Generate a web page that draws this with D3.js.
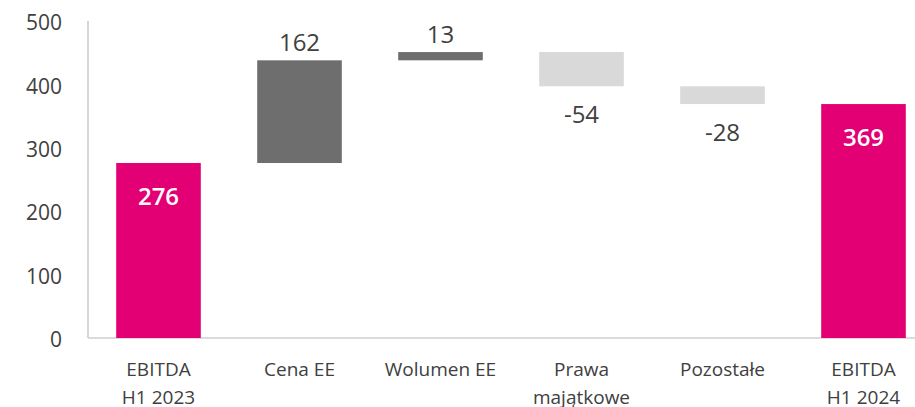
<!DOCTYPE html>
<html>
<head>
<meta charset="utf-8">
<script src="https://cdn.jsdelivr.net/npm/d3@7"></script>
<style>
    body { margin: 0; background: #fff; }
    svg { display: block; font-family: "Open Sans", sans-serif; }
</style>
</head>
<body>
<div id="chart"></div>
<script>
// category labels (lines split with |)
var categories = ["EBITDA|H1 2023", "Cena EE", "Wolumen EE", "Prawa|majątkowe", "Pozostałe", "EBITDA|H1 2024"];
// value of each step; "total" marks the full bars
var values = [276, 162, 13, -54, -28, 369];
var kinds = ["total", "delta", "delta", "delta", "delta", "total"];
var yTicks = [0, 100, 200, 300, 400, 500];

var width = 915,
    height = 407,
    margin = { top: 21, right: 0, bottom: 69, left: 88 };

var svg = d3.select("#chart").append("svg")
    .attr("width", width)
    .attr("height", height);

// running totals -> start/end of each bar
var running = 0;
var bars = values.map(function(v, i) {
    var d = { name: categories[i], value: v, kind: kinds[i] };
    if (kinds[i] === "total") {
        d.start = 0; d.end = v; running = v;
    } else {
        d.start = running; d.end = running + v; running = d.end;
    }
    return d;
});

var xScale = d3.scaleBand()
    .domain(categories)
    .range([margin.left, margin.left + 846])
    .paddingInner(0.4)
    .paddingOuter(0.2);

var yScale = d3.scaleLinear()
    .domain([0, 500])
    .range([height - margin.bottom, margin.top]);

var color = function(d) {
    if (d.kind === "total") return "#e20074";
    return d.value >= 0 ? "#6e6e6e" : "#d9d9d9";
};

// y axis labels
var yAxis = d3.axisLeft(yScale).tickValues(yTicks).tickSize(0).tickPadding(0);
var gy = svg.append("g")
    .attr("class", "y axis")
    .attr("transform", "translate(62,2)")
    .call(yAxis);
gy.select(".domain").remove();
gy.selectAll("text")
    .attr("fill", "#404040")
    .style("font-size", "21px")
    .style("font-family", "'Open Sans', sans-serif");

// axis lines
svg.append("line")
    .attr("x1", margin.left).attr("x2", margin.left)
    .attr("y1", yScale(500)).attr("y2", yScale(0))
    .attr("stroke", "#c8c8c8").attr("stroke-width", 1.5);
svg.append("line")
    .attr("x1", margin.left).attr("x2", width)
    .attr("y1", yScale(0)).attr("y2", yScale(0))
    .attr("stroke", "#cfcfcf").attr("stroke-width", 1.5);

// bars
svg.selectAll("rect.bar")
    .data(bars)
    .enter().append("rect")
    .attr("class", "bar")
    .attr("x", d => xScale(d.name))
    .attr("width", xScale.bandwidth())
    .attr("y", d => yScale(Math.max(d.start, d.end)))
    .attr("height", d => Math.abs(yScale(d.start) - yScale(d.end)))
    .attr("fill", color);

// value labels
svg.selectAll("text.val")
    .data(bars)
    .enter().append("text")
    .attr("class", "val")
    .attr("x", d => xScale(d.name) + xScale.bandwidth() / 2)
    .attr("y", function(d) {
        if (d.kind === "total") return yScale(d.end) + 42;
        if (d.value >= 0) return yScale(d.end) - 9;
        return yScale(d.end) + 37;
    })
    .attr("text-anchor", "middle")
    .attr("fill", d => d.kind === "total" ? "#ffffff" : "#404040")
    .style("font-size", "24px")
    .style("font-weight", d => d.kind === "total" ? 600 : 400)
    .text(d => d.value);

// category labels
var cat = svg.selectAll("text.cat")
    .data(categories)
    .enter().append("text")
    .attr("class", "cat")
    .attr("x", d => xScale(d) + xScale.bandwidth() / 2)
    .attr("y", 376)
    .attr("text-anchor", "middle")
    .attr("fill", "#404040")
    .style("font-size", "19px");
cat.selectAll("tspan")
    .data(d => d.split("|"))
    .enter().append("tspan")
    .attr("x", function() { return this.parentNode.getAttribute("x"); })
    .attr("dy", (d, i) => i === 0 ? 0 : 28)
    .text(d => d);
</script>
</body>
</html>
